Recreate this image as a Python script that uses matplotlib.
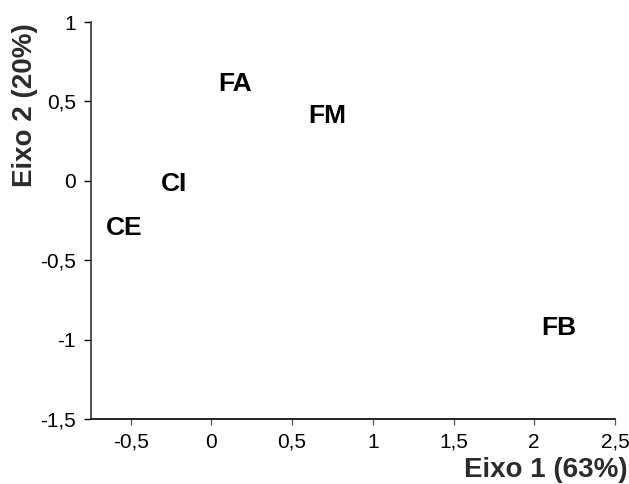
import matplotlib
matplotlib.use('Agg')
import matplotlib.pyplot as plt

plt.rcParams['font.family'] = ['Liberation Sans', 'DejaVu Sans']

labels = ['FA', 'FM', 'CI', 'CE', 'FB']
eixo1 = [0.15, 0.72, -0.23, -0.54, 2.15]
eixo2 = [0.61, 0.41, -0.02, -0.30, -0.93]

xticks = [-0.5, 0, 0.5, 1, 1.5, 2, 2.5]
yticks = [1, 0.5, 0, -0.5, -1, -1.5]

def fmt(v):
    s = ('%g' % v).replace('.', ',')
    return s

fig = plt.figure(figsize=(6.29, 4.84), dpi=100)
ax = fig.add_axes([0.1447, 0.1343, 0.8330, 0.8202])

for lab, x, y in zip(labels, eixo1, eixo2):
    ax.text(x, y, lab, ha='center', va='center', fontsize=19,
            fontweight='bold', color='black')

ax.set_xlim(-0.745, 2.5)
ax.set_ylim(-1.5, 1)
ax.set_xticks(xticks)
ax.set_xticklabels([fmt(v) for v in xticks])
ax.set_yticks(yticks)
ax.set_yticklabels([fmt(v) for v in yticks])

ax.spines['top'].set_visible(False)
ax.spines['right'].set_visible(False)
ax.spines['left'].set_linewidth(1.2)
ax.spines['bottom'].set_linewidth(1.2)
ax.spines['left'].set_color('#333333')
ax.tick_params(axis='x', direction='out', length=4, width=0.9, color='#555555',
               labelsize=15, pad=6)
ax.tick_params(axis='y', direction='out', length=5, width=1, labelsize=15, pad=6)

fig.text(0.04, 0.782, 'Eixo 2 (20%)', rotation=90, ha='center', va='center',
         fontsize=20, fontweight='bold', color='#2b2b2b')
fig.text(0.998, 0.029, 'Eixo 1 (63%)', ha='right', va='center',
         fontsize=20, fontweight='bold', color='#2b2b2b')

fig.savefig('out.png', dpi=100)
